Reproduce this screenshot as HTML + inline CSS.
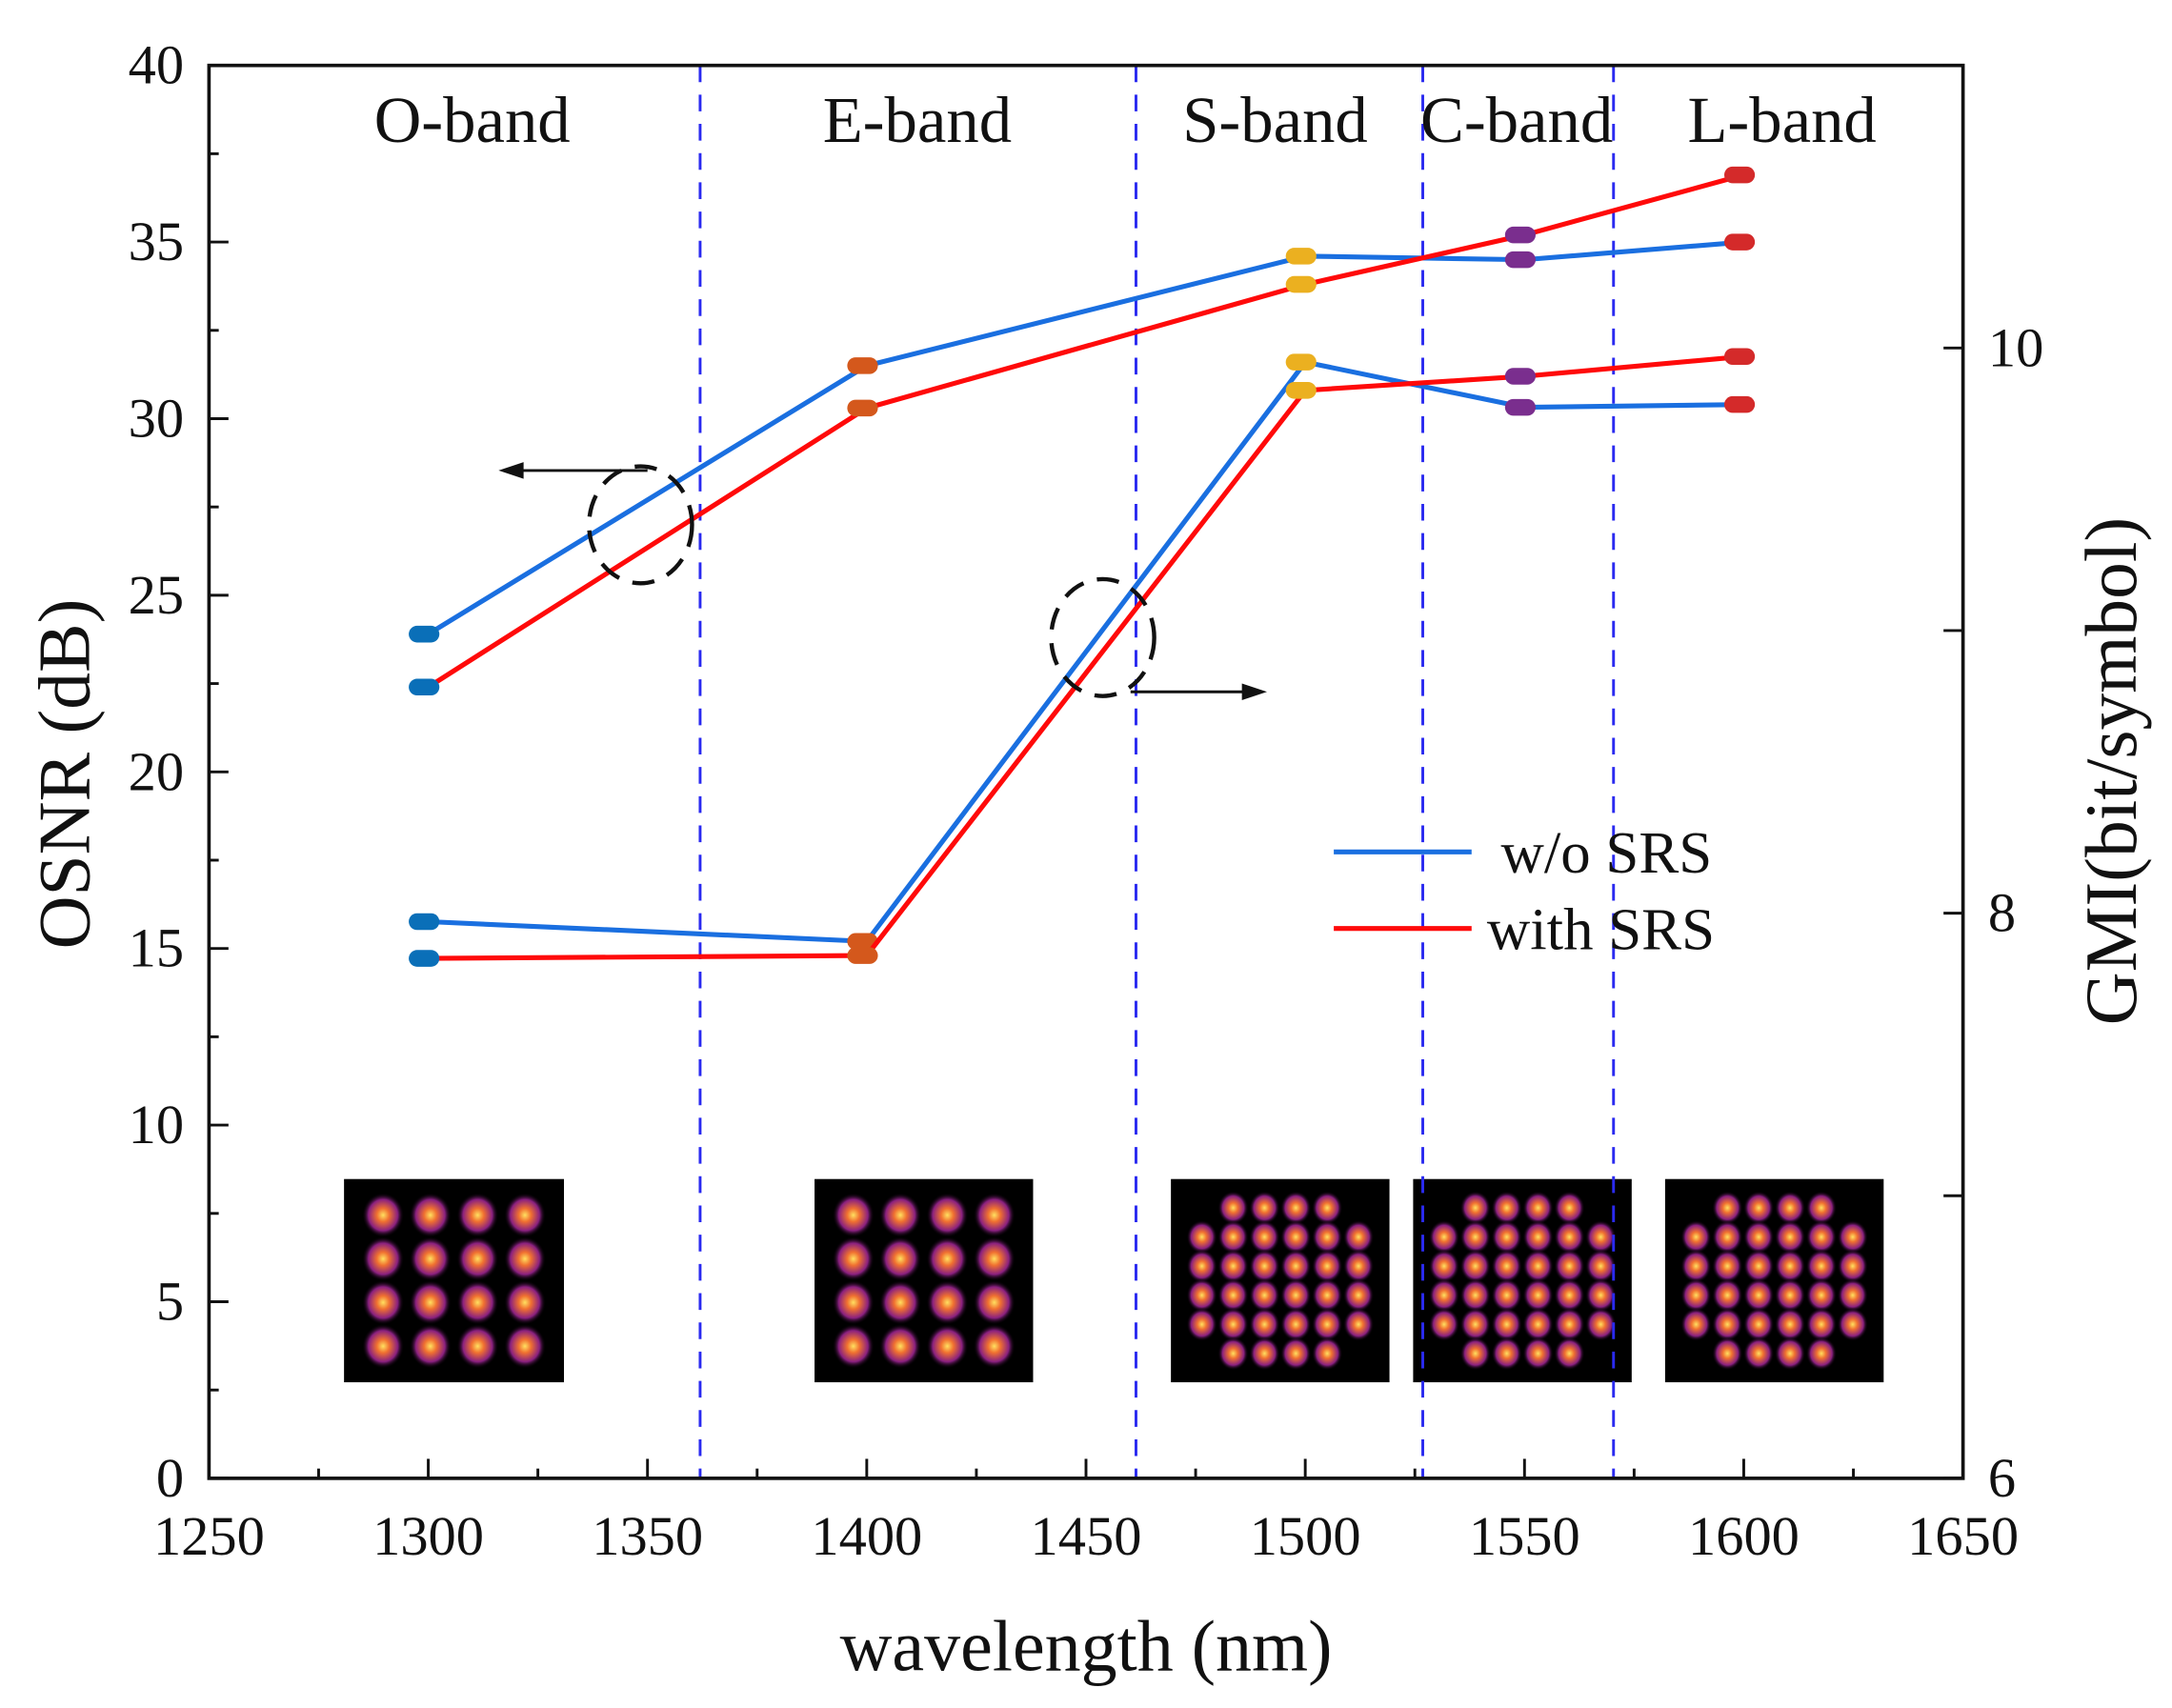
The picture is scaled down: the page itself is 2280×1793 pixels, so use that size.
<!DOCTYPE html>
<html><head><meta charset="utf-8"><style>
html,body{margin:0;padding:0;background:#fff}
svg{display:block}
text{font-family:"Liberation Serif",serif;fill:#111}
</style></head><body>
<svg id="chart" width="2280" height="1793" viewBox="0 0 1560 1227" xmlns="http://www.w3.org/2000/svg">
<defs>
<radialGradient id="spot">
<stop offset="0" stop-color="#ffe060"/>
<stop offset="0.3" stop-color="#f07030"/>
<stop offset="0.7" stop-color="#8a2080"/>
<stop offset="1" stop-color="#000" stop-opacity="0"/>
</radialGradient>
</defs>
<g id="plot"></g>
</svg>
<script>
const wavelengths=[1300,1400,1500,1550,1600];
const osnrWo=[23.9,31.5,34.6,34.5,35.0];
const osnrWith=[22.4,30.3,33.8,35.2,36.9];
const gmiWo=[7.97,7.90,9.95,9.79,9.80];
const gmiWith=[7.84,7.85,9.85,9.90,9.97];
const markerColors=["#0a6fb8","#d4581c","#ebb020","#7a2e8e","#d42a2a"];
const xTicks=[1250,1300,1350,1400,1450,1500,1550,1600,1650];
const yTicks=[0,5,10,15,20,25,30,35,40];
const gmiTicks=[6,8,10];
const bandEdges=[1362,1461.4,1526.8,1570.3];
const bandNames=["O-band","E-band","S-band","C-band","L-band"];
const bandLabelX=[1300.5,1402,1483.6,1538.7,1599.2];
const constellations=[16,16,32,32,32];

const NS="http://www.w3.org/2000/svg";
const L=150,R=1410,T=47,B=1062;
const xs=v=>L+(v-1250)/400*(R-L);
const ys=v=>B-v/40*(B-T);
const yg=v=>B-(v-6)/5*(B-T);
const g=document.getElementById('plot');
function mk(tag,attrs,parent){const e=document.createElementNS(NS,tag);for(const k in attrs)e.setAttribute(k,attrs[k]);(parent||g).appendChild(e);return e;}
function txt(s,attrs,parent){const e=mk('text',attrs,parent);e.textContent=s;return e;}

const boxes=[[247,405],[585,742],[841,998],[1015,1172],[1196,1353]];
constellations.forEach((n,i)=>{
  const [x0,x1]=boxes[i];const y0=847,y1=993;
  const cg=mk('g',{});
  
  
  mk('rect',{x:x0,y:y0,width:x1-x0,height:y1-y0,fill:'#000'},cg);
  const m=n===16?4:6;
  const w=x1-x0,h=y1-y0;
  for(let r=0;r<m;r++)for(let c=0;c<m;c++){
    if(m===6&&(r===0||r===5)&&(c===0||c===5))continue;
    const cx=x0+w*(c+0.5)/m*0.86+w*0.07;
    const cy=y0+h*(r+0.5)/m*0.86+h*0.07;
    mk('ellipse',{cx:cx,cy:cy,rx:m===4?15:11,ry:m===4?16:12,fill:'url(#spot)'},cg);
  }
});

bandEdges.forEach(b=>{
  const l=mk('line',{x1:xs(b),x2:xs(b),y1:T,y2:B,stroke:'#2a2af0','stroke-width':2,'stroke-dasharray':'12,9'});
  
  
});
bandNames.forEach((n,i)=>{
  const t=txt(n,{x:xs(bandLabelX[i])+30,y:102,'font-size':47,'text-anchor':'middle'});
  
  
});

const frame=mk('rect',{x:L,y:T,width:R-L,height:B-T,fill:'none',stroke:'#111','stroke-width':2.5});



xTicks.forEach((v,i)=>{
  mk('line',{x1:xs(v),x2:xs(v),y1:B,y2:B-14,stroke:'#111','stroke-width':2});
  if(i<xTicks.length-1)mk('line',{x1:xs(v+25),x2:xs(v+25),y1:B,y2:B-7,stroke:'#111','stroke-width':2});
  const t=txt(String(v),{x:xs(v),y:1117,'font-size':40,'text-anchor':'middle'});
  
  
});
yTicks.forEach((v,i)=>{
  mk('line',{x1:L,x2:L+14,y1:ys(v),y2:ys(v),stroke:'#111','stroke-width':2});
  if(i<yTicks.length-1)mk('line',{x1:L,x2:L+7,y1:ys(v+2.5),y2:ys(v+2.5),stroke:'#111','stroke-width':2});
  const t=txt(String(v),{x:132,y:ys(v)+13,'font-size':40,'text-anchor':'end'});
  
  
});
for(let v=6;v<=11;v++){
  mk('line',{x1:R,x2:R-14,y1:yg(v),y2:yg(v),stroke:'#111','stroke-width':2});
}
gmiTicks.forEach(v=>{
  const t=txt(String(v),{x:1428,y:yg(v)+13,'font-size':40});
  
  
});

const xt=txt('wavelength (nm)',{x:780,y:1200,'font-size':52,'text-anchor':'middle'});


const yt=txt('OSNR (dB)',{x:0,y:0,'font-size':53,'text-anchor':'middle',transform:'translate(64,556) rotate(-90)'});


const y2t=txt('GMI(bit/symbol)',{x:0,y:0,'font-size':53,'text-anchor':'middle',transform:'translate(1534,554) rotate(-90)'});



function series(vals,scale,color,name){
  const pts=vals.map((v,i)=>xs(wavelengths[i])+','+scale(v)).join(' ');
  const p=mk('polyline',{points:pts,fill:'none',stroke:color,'stroke-width':3.5});
  
  
  vals.forEach((v,i)=>{
    const m=mk('rect',{x:xs(wavelengths[i])-14,y:scale(v)-6,width:22,height:12,rx:6,fill:markerColors[i]});
    
    
  });
}
series(osnrWo,ys,'#1a6fe0','osnr-without-srs-line');
series(osnrWith,ys,'#ff0a0a','osnr-with-srs-line');
series(gmiWo,yg,'#1a6fe0','gmi-without-srs-line');
series(gmiWith,yg,'#ff0a0a','gmi-with-srs-line');

const a1=mk('ellipse',{cx:460,cy:377,rx:37,ry:42,fill:'none',stroke:'#111','stroke-width':3,'stroke-dasharray':'16,10'});


mk('line',{x1:465,y1:338,x2:372,y2:338,stroke:'#111','stroke-width':2});
mk('polygon',{points:'358,338 376,332 376,344',fill:'#111'});
const a2=mk('ellipse',{cx:792,cy:458,rx:37,ry:42,fill:'none',stroke:'#111','stroke-width':3,'stroke-dasharray':'16,10'});


mk('line',{x1:812,y1:497,x2:896,y2:497,stroke:'#111','stroke-width':2});
mk('polygon',{points:'910,497 892,491 892,503',fill:'#111'});

const lg=mk('g',{});


mk('line',{x1:958,x2:1057,y1:612,y2:612,stroke:'#1a6fe0','stroke-width':3.5},lg);
txt('w/o SRS',{x:1078,y:627,'font-size':43},lg);
mk('line',{x1:958,x2:1057,y1:667,y2:667,stroke:'#ff0a0a','stroke-width':3.5},lg);
txt('with SRS',{x:1068,y:682,'font-size':43},lg);
</script>
</body></html>
